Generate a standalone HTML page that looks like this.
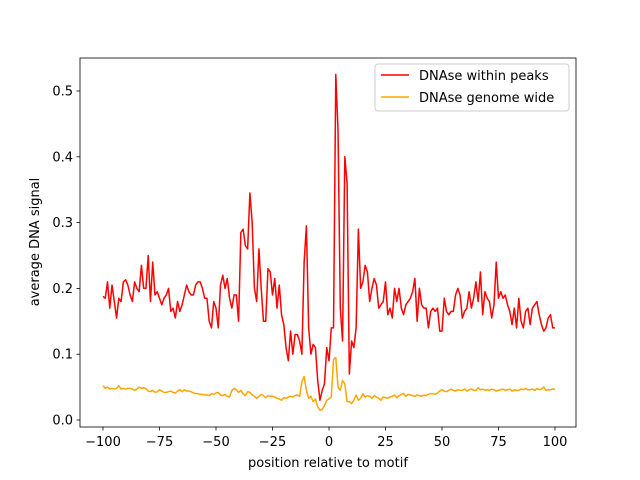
<!DOCTYPE html>
<html><head><meta charset="utf-8"><style>
body{margin:0;background:#fff;}
svg{display:block;font-family:"DejaVu Sans","Liberation Sans",sans-serif;}
</style></head><body>
<svg id="chart" width="640" height="480">
<rect x="0" y="0" width="640" height="480" fill="#fff"/>
<g id="ticks"></g>
<g id="series"></g>
<rect x="80" y="58" width="496" height="369" fill="none" stroke="#000" stroke-width="0.8"/>
<text x="328" y="467" font-size="13" text-anchor="middle">position relative to motif</text>
<text x="0" y="0" font-size="13" text-anchor="middle" transform="translate(39,242) rotate(-90)">average DNA signal</text>
<g>
<rect x="375" y="64" width="194" height="47" rx="3" fill="#fff" fill-opacity="0.8" stroke="#ccc"/>
<line x1="381" y1="75" x2="409" y2="75" stroke="#ff0000" stroke-width="1.5"/>
<text x="419" y="80" font-size="13">DNAse within peaks</text>
<line x1="381" y1="97" x2="409" y2="97" stroke="#ffa500" stroke-width="1.5"/>
<text x="419" y="102" font-size="13">DNAse genome wide</text>
</g>
</svg>
<script>
const xTicks=[-100,-75,-50,-25,0,25,50,75,100];
const yTicks=[0.0,0.1,0.2,0.3,0.4,0.5];
const yTickLabels=["0.0","0.1","0.2","0.3","0.4","0.5"];
const peaks=[0.188,0.185,0.21,0.17,0.205,0.18,0.155,0.185,0.18,0.21,0.213,0.205,0.19,0.18,0.21,0.2,0.195,0.235,0.2,0.2,0.25,0.18,0.24,0.19,0.195,0.185,0.175,0.185,0.19,0.2,0.165,0.17,0.155,0.18,0.165,0.175,0.19,0.205,0.195,0.19,0.19,0.205,0.21,0.21,0.2,0.185,0.185,0.15,0.14,0.18,0.17,0.14,0.205,0.22,0.2,0.215,0.185,0.17,0.19,0.19,0.15,0.285,0.29,0.265,0.26,0.345,0.3,0.2,0.18,0.26,0.2,0.15,0.15,0.23,0.225,0.19,0.215,0.17,0.205,0.16,0.145,0.11,0.09,0.135,0.1,0.13,0.13,0.12,0.1,0.24,0.295,0.14,0.1,0.115,0.11,0.06,0.03,0.045,0.055,0.11,0.09,0.14,0.14,0.525,0.44,0.17,0.12,0.4,0.36,0.07,0.12,0.11,0.14,0.29,0.2,0.21,0.235,0.225,0.18,0.2,0.215,0.205,0.17,0.175,0.18,0.21,0.16,0.17,0.155,0.2,0.18,0.2,0.17,0.16,0.175,0.18,0.185,0.195,0.215,0.15,0.2,0.175,0.17,0.17,0.14,0.165,0.17,0.165,0.17,0.135,0.135,0.185,0.165,0.16,0.165,0.165,0.19,0.2,0.19,0.155,0.165,0.17,0.195,0.17,0.185,0.21,0.18,0.225,0.16,0.195,0.185,0.18,0.155,0.175,0.24,0.185,0.195,0.185,0.19,0.175,0.165,0.145,0.17,0.14,0.185,0.15,0.14,0.165,0.17,0.145,0.17,0.175,0.18,0.16,0.145,0.135,0.14,0.155,0.16,0.14,0.14];
const genome=[0.052,0.048,0.05,0.047,0.048,0.047,0.048,0.052,0.047,0.048,0.047,0.048,0.048,0.047,0.045,0.047,0.05,0.048,0.049,0.048,0.044,0.043,0.045,0.042,0.043,0.046,0.044,0.042,0.042,0.043,0.044,0.042,0.041,0.044,0.046,0.043,0.046,0.044,0.044,0.043,0.041,0.040,0.040,0.039,0.039,0.038,0.038,0.037,0.040,0.039,
0.041,0.042,0.038,0.037,0.039,0.036,0.035,0.045,0.048,0.046,0.042,0.045,0.040,0.037,0.043,0.042,0.038,0.036,0.033,0.036,0.039,0.037,0.034,0.037,0.036,0.036,0.035,0.033,0.032,0.030,0.034,0.033,0.035,0.036,0.035,0.037,0.038,0.036,0.058,0.066,0.045,0.033,0.036,0.028,0.032,0.020,0.015,0.016,0.022,0.030,
0.032,0.035,0.092,0.095,0.050,0.045,0.060,0.055,0.028,0.028,0.025,0.030,0.038,0.030,0.033,0.040,0.035,0.037,0.036,0.033,0.037,0.035,0.033,0.030,0.035,0.034,0.033,0.035,0.036,0.038,0.034,0.037,0.039,0.040,0.036,0.039,0.038,0.037,0.036,0.038,0.037,0.036,0.038,0.037,0.039,0.040,0.040,0.039,0.041,0.044,0.046,0.044,0.043,0.045,0.047,0.045,0.044,0.046,0.045,0.045,0.047,0.044,0.046,0.047,0.045,0.045,0.049,0.046,0.047,0.045,0.046,0.045,0.047,0.046,0.044,0.045,0.046,0.047,0.045,0.046,0.047,0.044,0.046,0.045,0.045,0.047,0.046,0.048,0.046,0.046,0.047,0.045,0.048,0.046,0.047,0.050,0.045,0.046,0.046,0.047,0.047];
const xStart=-100;
const NS="http://www.w3.org/2000/svg";
function xs(v){return 103+(v+100)*(452/200);}
function ys(v){return 420-v*658;}
const tg=document.getElementById('ticks');
xTicks.forEach(t=>{
  const l=document.createElementNS(NS,'line');
  l.setAttribute('x1',xs(t));l.setAttribute('x2',xs(t));l.setAttribute('y1',427);l.setAttribute('y2',430.5);l.setAttribute('stroke','#000');l.setAttribute('stroke-width','0.8');
  
  
  tg.appendChild(l);
  const tx=document.createElementNS(NS,'text');
  tx.setAttribute('x',xs(t));tx.setAttribute('y',446);tx.setAttribute('font-size','13');tx.setAttribute('text-anchor','middle');
  tx.textContent=(t<0?'\u2212'+(-t):String(t));
  
  
  tg.appendChild(tx);
});
yTicks.forEach((t,i)=>{
  const l=document.createElementNS(NS,'line');
  l.setAttribute('x1',76.5);l.setAttribute('x2',80);l.setAttribute('y1',ys(t));l.setAttribute('y2',ys(t));l.setAttribute('stroke','#000');l.setAttribute('stroke-width','0.8');
  
  
  tg.appendChild(l);
  const tx=document.createElementNS(NS,'text');
  tx.setAttribute('x',73);tx.setAttribute('y',ys(t)+4.5);tx.setAttribute('font-size','13');tx.setAttribute('text-anchor','end');
  tx.textContent=yTickLabels[i];
  
  
  tg.appendChild(tx);
});
const sg=document.getElementById('series');
function line(arr,color,name){
  const p=document.createElementNS(NS,'polyline');
  p.setAttribute('points',arr.map((v,i)=>xs(xStart+i).toFixed(2)+','+ys(v).toFixed(2)).join(' '));
  p.setAttribute('fill','none');p.setAttribute('stroke',color);p.setAttribute('stroke-width','1.5');p.setAttribute('stroke-linejoin','round');
  
  
  sg.appendChild(p);
}
line(genome,'#ffa500','genome-wide-line');
line(peaks,'#ff0000','within-peaks-line');
</script>
</body></html>
